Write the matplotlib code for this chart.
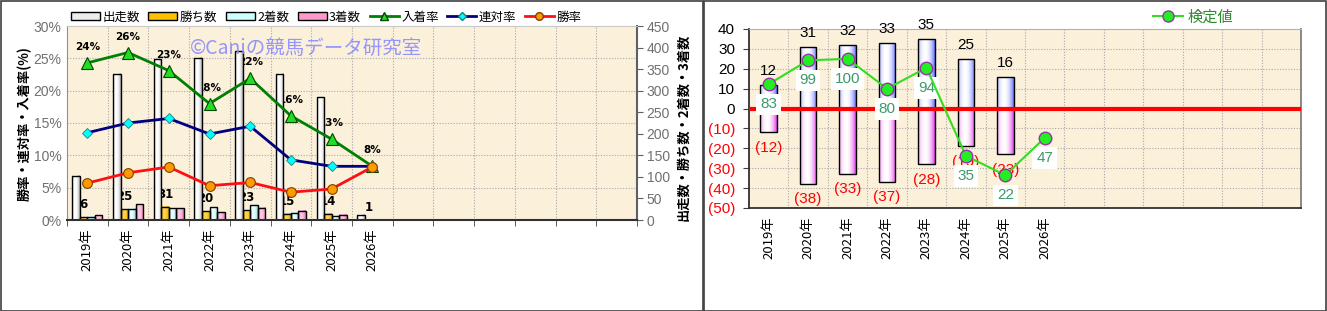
import numpy as np
import matplotlib
matplotlib.use('Agg')
import matplotlib.pyplot as plt
from matplotlib.colors import to_rgb
from matplotlib.lines import Line2D
from matplotlib.patches import Rectangle, Patch
from matplotlib.transforms import blended_transform_factory

plt.rcParams['font.family'] = ['Noto Sans CJK JP', 'DejaVu Sans']

# ---------------- data ----------------
years = ['2019年', '2020年', '2021年', '2022年', '2023年', '2024年', '2025年', '2026年']
n_slots = 14
runs = [103, 339, 373, 376, 392, 339, 285, 12]
wins = [6, 25, 31, 20, 23, 15, 14, 1]
seconds = [8, 26, 27, 30, 34, 17, 10, 0]
thirds = [11, 36, 27, 18, 28, 22, 12, 0]
place_rate = [24.3, 25.9, 23.1, 18.0, 21.9, 16.1, 12.5, 8.3]
place_labels = ['24%', '26%', '23%', '18%', '22%', '16%', '13%', '8%']
quinella_rate = [13.5, 15.0, 15.7, 13.3, 14.5, 9.3, 8.3, 8.3]
win_rate = [5.7, 7.3, 8.2, 5.3, 5.8, 4.3, 4.8, 8.2]

plus_vals = [12, 31, 32, 33, 35, 25, 16, np.nan]
minus_vals = [12, 38, 33, 37, 28, 19, 23, np.nan]
test_vals = [83, 99, 100, 80, 94, 35, 22, 47]

BG = '#FBF0DA'
GRID = '#A8A8A8'

fig = plt.figure(figsize=(13.27, 3.11), dpi=100)


def grad_bars(ax, bars, edge, center, z, peak=0.42):
    e = np.array(to_rgb(edge))
    c = np.array(to_rgb(center))
    xs = np.linspace(0, 1, 64)
    f = np.clip(1 - ((xs - peak) / 0.62) ** 2, 0, 1)
    img = (e[None, :] * (1 - f[:, None]) + c[None, :] * f[:, None])[None, :, :]
    for b in bars:
        h = b.get_height()
        if not np.isfinite(h) or h == 0:
            continue
        x, y = b.get_xy()
        w = b.get_width()
        ax.imshow(img, extent=[x, x + w, y, y + h], aspect='auto',
                  interpolation='bilinear', zorder=z)
        b.set_facecolor('none')
        b.set_edgecolor('black')
        b.set_linewidth(1.0)
        b.set_zorder(z + 0.1)


# ---------------- left chart ----------------
ax = fig.add_axes([67 / 1327, 1 - 220 / 311, 570 / 1327, 194 / 311])
ax2 = ax.twinx()
ax.set_zorder(2)
ax2.set_zorder(1)
ax.patch.set_visible(False)
ax2.patch.set_visible(True)
ax2.patch.set_facecolor(BG)

x = np.arange(len(years))
bw = 0.185
series = [(runs, '#9A9A9A', '#FFFFFF'), (wins, '#D49A00', '#FFD447'),
          (seconds, '#7FC4C4', '#E6FFFF'), (thirds, '#D0609C', '#FFC6E4')]
offs = [-1.5, -0.5, 0.5, 1.5]
for (vals, ec, cc), o in zip(series, offs):
    bars = ax2.bar(x + o * bw, vals, width=bw)
    grad_bars(ax2, bars, ec, cc, 2)

ax2.set_xlim(-0.5, n_slots - 0.5)
ax2.set_ylim(0, 450)
ax.set_xlim(-0.5, n_slots - 0.5)
ax.set_ylim(0, 30)

# grid under bars
tr = blended_transform_factory(ax2.transAxes, ax.transData)
for p in range(5, 30, 5):
    ax2.plot([0, 1], [p, p], transform=tr, color=GRID, lw=0.8, ls=(0, (1, 1.5)), zorder=0.5)
for b in np.arange(0.5, n_slots - 0.5, 1):
    ax2.axvline(b, color=GRID, lw=0.8, ls=(0, (1, 1.5)), zorder=0.5)

# labels (behind bars)
for i in range(len(years)):
    ax2.annotate(place_labels[i], xy=(x[i], place_rate[i]), xycoords=ax.transData,
                 xytext=(0, 11.5), textcoords='offset points', ha='center', va='center',
                 fontsize=7.5, fontweight='bold', family='DejaVu Sans', zorder=1.5)
    ax2.annotate(str(wins[i]), xy=(x[i] - 0.5 * bw, wins[i]), xytext=(0, 9),
                 textcoords='offset points', ha='center', va='center',
                 fontsize=8.5, fontweight='bold', family='DejaVu Sans', zorder=1.5)

ax.plot(x, place_rate, color='#008000', lw=2, marker='^', ms=8.5,
        mfc='#22DD22', mec='#004400', mew=0.8, zorder=3)
ax.plot(x, quinella_rate, color='#000080', lw=2, marker='D', ms=5.5,
        mfc='#00FFFF', mec='#208080', mew=0.6, zorder=3)
ax.plot(x, win_rate, color='#FF1010', lw=2, marker='o', ms=7,
        mfc='#FF9900', mec='#804000', mew=0.8, zorder=3)

ax.set_yticks(range(0, 31, 5))
ax.set_yticklabels([f'{v}%' for v in range(0, 31, 5)], color='#707070',
                   fontsize=10, family='Liberation Sans')
ax.tick_params(axis='y', length=0, pad=4)
ax.set_xticks(x)
ax.set_xticklabels(years, rotation=90, fontsize=9.5)
ax.set_xticks(np.arange(-0.5, n_slots, 1), minor=True)
ax.tick_params(axis='x', which='major', length=0, pad=6)
ax.tick_params(axis='x', which='minor', length=4, color='#404040', direction='out')

ax2.set_yticks(range(0, 451, 50))
ax2.set_yticklabels([str(v) for v in range(0, 451, 50)], color='#707070',
                    fontsize=10, family='Liberation Sans')
ax2.tick_params(axis='y', length=4, color='#606060', direction='out', pad=3)
ax2.tick_params(axis='x', length=0, labelbottom=False)

for s in ['top', 'left', 'bottom', 'right']:
    ax2.spines[s].set_visible(False)
ax.spines['top'].set_color('#C8C8C8')
ax.spines['left'].set_color('#909090')
ax.spines['bottom'].set_color('#303030')
ax.spines['bottom'].set_linewidth(1.5)
ax.spines['right'].set_color('#606060')
ax.spines['right'].set_linewidth(1.5)

ax.text(0.216, 0.885, '©Caniの競馬データ研究室', transform=ax.transAxes,
        fontsize=14, color='#8A8CFF', alpha=0.9, ha='left', va='center', zorder=1)

fig.text(25 / 1327, 1 - 124 / 311, '勝率・連対率・入着率(%)', rotation=90,
         ha='center', va='center', fontsize=9.5, fontweight='bold')
fig.text(683 / 1327, 1 - 127 / 311, '出走数・勝ち数・2着数・3着数', rotation=90,
         ha='center', va='center', fontsize=9.5, fontweight='bold')

handles = [Patch(facecolor='#EDEDED', edgecolor='black', label='出走数'),
           Patch(facecolor='#FFC000', edgecolor='black', label='勝ち数'),
           Patch(facecolor='#CCFFFF', edgecolor='black', label='2着数'),
           Patch(facecolor='#FF99CC', edgecolor='black', label='3着数'),
           Line2D([], [], color='#008000', lw=2, marker='^', ms=6, mfc='#22DD22', mec='#004400', label='入着率'),
           Line2D([], [], color='#000080', lw=2, marker='D', ms=4.5, mfc='#00FFFF', mec='#208080', label='連対率'),
           Line2D([], [], color='#FF1010', lw=2, marker='o', ms=5.5, mfc='#FF9900', mec='#804000', label='勝率')]
fig.legend(handles=handles, loc='center', bbox_to_anchor=(326 / 1327, 1 - 17 / 311),
           ncol=7, frameon=False, fontsize=9, handlelength=2.3, handleheight=0.55,
           handletextpad=0.2, columnspacing=0.7, borderpad=0)

# ---------------- right chart ----------------
rax = fig.add_axes([749 / 1327, 1 - 208 / 311, 552 / 1327, 179 / 311])
rax.set_facecolor(BG)
pos = rax.bar(x, plus_vals, width=0.42)
grad_bars(rax, pos, '#4F5CFF', '#FFFFFF', 2)
neg = rax.bar(x, [-v for v in minus_vals], width=0.42)
grad_bars(rax, neg, '#E020E8', '#FFFFFF', 2)
rax.set_xlim(-0.5, n_slots - 0.5)
rax.set_ylim(-50, 40)
for yv in range(-40, 40, 10):
    rax.axhline(yv, color=GRID, lw=0.8, ls=(0, (1, 1.5)), zorder=0.5)
for b in np.arange(0.5, n_slots - 0.5, 1):
    rax.axvline(b, color=GRID, lw=0.8, ls=(0, (1, 1.5)), zorder=0.5)
rax.axhline(0, color='#FF0000', lw=3, zorder=3)

for i in range(len(years)):
    if np.isfinite(plus_vals[i]):
        rax.annotate(str(plus_vals[i]), xy=(x[i], plus_vals[i]), xytext=(0, 10),
                     textcoords='offset points', ha='center', va='center', fontsize=11,
                     color='black', family='Liberation Sans', zorder=4)
    if np.isfinite(minus_vals[i]):
        rax.annotate(f'({minus_vals[i]})', xy=(x[i], -minus_vals[i]), xytext=(0, -11),
                     textcoords='offset points', ha='center', va='center', fontsize=11,
                     color='#FF0000', family='Liberation Sans', zorder=4)

yt = list(range(40, -51, -10))
rax.set_yticks(yt)
rax.set_yticklabels([str(v) if v >= 0 else f'({-v})' for v in yt], fontsize=11,
                    family='Liberation Sans')
for lbl, v in zip(rax.get_yticklabels(), yt):
    lbl.set_color('black' if v >= 0 else '#FF0000')
rax.tick_params(axis='y', length=4, direction='out', color='#404040', pad=6)
rax.set_xticks(x)
rax.set_xticklabels(years, rotation=90, fontsize=9.5)
rax.set_xticks(np.arange(-0.5, n_slots, 1), minor=True)
rax.tick_params(axis='x', which='major', length=0, pad=6)
rax.tick_params(axis='x', which='minor', length=0)
rax.spines['left'].set_color('#303030')
rax.spines['left'].set_linewidth(1.3)
rax.spines['bottom'].set_color('#303030')
rax.spines['bottom'].set_linewidth(1.3)
rax.spines['top'].set_color('#B0B0B0')
rax.spines['right'].set_color('#808080')
rax.spines['right'].set_linewidth(1.3)

rax2 = rax.twinx()
rax2.set_ylim(0, 120)
rax2.set_xlim(-0.5, n_slots - 0.5)
rax2.plot(x, test_vals, color='#33DD22', lw=1.5, marker='o', ms=9,
          mfc='#22EE22', mec='#9933AA', mew=1.0, zorder=5)
for i in range(len(years)):
    rax2.annotate(str(test_vals[i]), xy=(x[i], test_vals[i]), xytext=(0, -14.5),
                  textcoords='offset points', ha='center', va='center', fontsize=11,
                  color='#3A9A6A', family='Liberation Sans', zorder=4,
                  bbox=dict(boxstyle='square,pad=0.25', fc='white', ec='none'))
rax2.set_yticks([])
for s in rax2.spines.values():
    s.set_visible(False)

fig.legend(handles=[Line2D([], [], color='#33DD22', lw=1.5, marker='o', ms=8,
                           mfc='#22EE22', mec='#9933AA', label='検定値')],
           loc='center', bbox_to_anchor=(1193 / 1327, 1 - 17 / 311), frameon=False,
           fontsize=11, handlelength=2.0, handletextpad=0.3, borderpad=0,
           labelcolor='#2E8B2E')

# panel borders
fig.add_artist(Rectangle((0.5 / 1327, 0.5 / 311), 702 / 1327, 309.5 / 311,
                         transform=fig.transFigure, fill=False, ec='#404040', lw=1.2))
fig.add_artist(Rectangle((703.5 / 1327, 0.5 / 311), 622.5 / 1327, 309.5 / 311,
                         transform=fig.transFigure, fill=False, ec='#404040', lw=1.2))

fig.savefig('out.png', dpi=100)
